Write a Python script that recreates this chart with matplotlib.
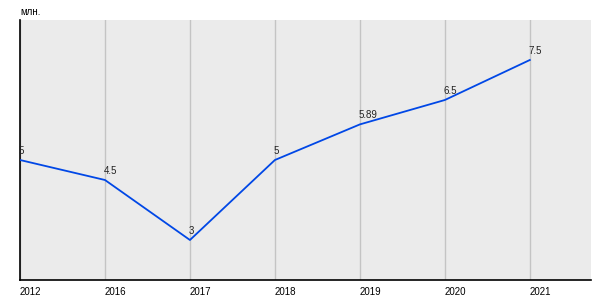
"""
Line chart of yearly values (млн.)
"""
import matplotlib.pyplot as plt

years = ['2012', '2016', '2017', '2018', '2019', '2020', '2021']
values = [5, 4.5, 3, 5, 5.89, 6.5, 7.5]
value_labels = ['5', '4.5', '3', '5', '5.89', '6.5', '7.5']

fig = plt.figure(figsize=(6, 3), dpi=100)
ax = fig.add_axes([20 / 600, 20 / 300, 571 / 600, 260 / 300])
ax.set_facecolor('#ebebeb')

x = list(range(len(years)))
ax.plot(x, values, color='#0047e6', linewidth=1.3, zorder=3)

for xi, v, lab in zip(x, values, value_labels):
    ax.annotate(lab, (xi, v), xytext=(-1, 3), textcoords='offset points',
                ha='left', va='bottom', fontsize=7, color='#222222',
                fontfamily='Liberation Sans')

ax.set_xlim(0, 6.72)
ax.set_ylim(2, 8.5)
ax.set_xticks(x)
ax.set_xticklabels(years, fontsize=7, fontfamily='Liberation Sans', ha='left')
ax.tick_params(axis='x', length=0, pad=5)
ax.set_yticks([])
ax.grid(axis='x', color='#c4c4c4', linewidth=1)
ax.set_axisbelow(True)

for side in ['top', 'right']:
    ax.spines[side].set_visible(False)
for side in ['left', 'bottom']:
    ax.spines[side].set_color('black')
    ax.spines[side].set_linewidth(1.2)

fig.text(20 / 600, 1 - 12 / 300, 'млн.', fontsize=7, fontfamily='Liberation Sans',
         va='center', ha='left')

fig.savefig('out.png', dpi=100)
